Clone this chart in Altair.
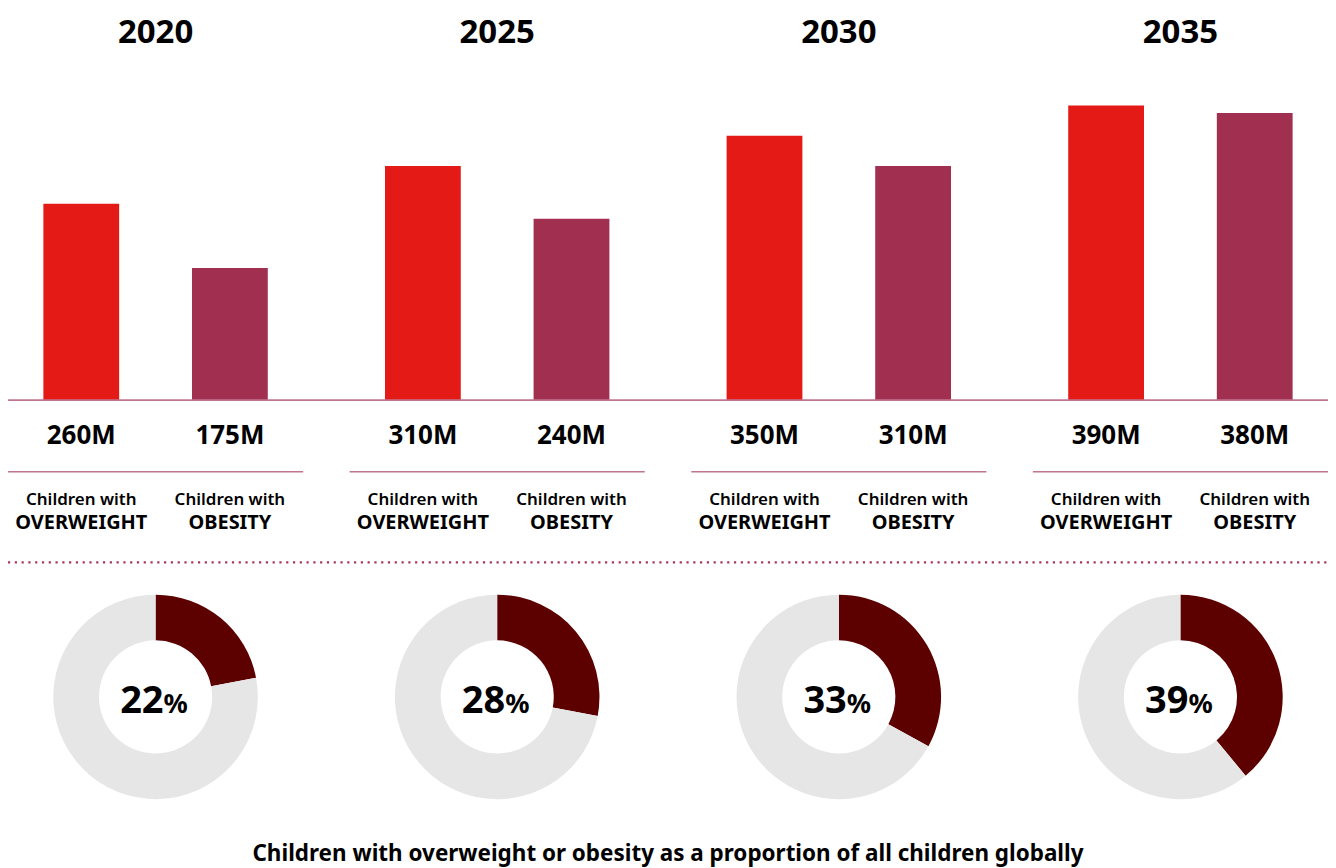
import math
import altair as alt
import pandas as pd

# ---- data ----
years = ["2020", "2025", "2030", "2035"]
categories = ["OVERWEIGHT", "OBESITY"]
overweight_m = [260, 310, 350, 390]
obesity_m = [175, 240, 310, 380]
share_pct = [22, 28, 33, 39]
caption = "Children with overweight or obesity as a proportion of all children globally"

# ---- tables built from the arrays ----
bar_rows = []
for i, y in enumerate(years):
    for c, v in zip(categories, [overweight_m[i], obesity_m[i]]):
        bar_rows.append({"year": y, "cat": c, "value": v, "label": f"{v}M"})
bars_df = pd.DataFrame(bar_rows)

donut_rows = []
for y, s in zip(years, share_pct):
    donut_rows.append({"year": y, "part": "share", "amount": s, "order": 0})
    donut_rows.append({"year": y, "part": "rest", "amount": 100 - s, "order": 1})
donut_df = pd.DataFrame(donut_rows)

pct_df = pd.DataFrame({"year": years, "pct": [str(p) for p in share_pct]})
one_df = pd.DataFrame({"k": [0]})

# ---- styles ----
FONT = "Noto Sans"
RED = "#e31a16"
MAROON = "#a02f50"
LINE = "#c27590"
DOT = "#a8365e"
DARK = "#5c0000"
LIGHT = "#e6e6e6"
W, H = 1323, 862


def xyear(**kw):
    return alt.X("year:N", sort=years, axis=None,
                 scale=alt.Scale(domain=years, paddingInner=0.136, paddingOuter=0), **kw)


xoff = alt.XOffset("cat:N", sort=categories,
                   scale=alt.Scale(domain=categories, paddingInner=0.49, paddingOuter=0.238))

yscale = alt.Scale(domain=[0, 400], range=[392, 392 - 0.757 * 400])

bars = alt.Chart(bars_df).mark_bar().encode(
    x=xyear(),
    xOffset=xoff,
    y=alt.Y("value:Q", scale=yscale, axis=None),
    color=alt.condition("datum.cat == 'OVERWEIGHT'", alt.value(RED), alt.value(MAROON)),
)

baseline = alt.Chart(one_df).mark_rule(color=LINE, strokeWidth=1.6).encode(
    x=alt.value(-1), x2=alt.value("width"), y=alt.value(392)
)

year_text = alt.Chart(pct_df).mark_text(
    font=FONT, fontSize=33, fontWeight="bold", baseline="alphabetic", color="#000"
).encode(x=xyear(), y=alt.value(33.7), text="year:N")

value_text = alt.Chart(bars_df).mark_text(
    font=FONT, fontSize=26, fontWeight="bold", baseline="alphabetic", color="#000"
).encode(x=xyear(), xOffset=xoff, y=alt.value(436), text="label:N")

sep = alt.Chart(pct_df).mark_rect(color=LINE).encode(
    x=xyear(), y=alt.value(463), y2=alt.value(464.6)
)

lead_text = alt.Chart(bars_df).mark_text(
    font=FONT, fontSize=17, fontWeight=600, baseline="alphabetic", color="#000"
).encode(x=xyear(), xOffset=xoff, y=alt.value(497), text=alt.value("Children with"))

cat_text = alt.Chart(bars_df).mark_text(
    font=FONT, fontSize=20, fontWeight="bold", baseline="alphabetic", color="#000"
).encode(x=xyear(), xOffset=xoff, y=alt.value(521.3), text="cat:N")

dots = alt.Chart(one_df).mark_rule(
    color=DOT, strokeWidth=2.2, strokeDash=[2.2, 4.6]
).encode(x=alt.value(0), x2=alt.value("width"), y=alt.value(554.7))

donut = alt.Chart(donut_df).transform_stack(
    stack="amount", groupby=["year"], as_=["t0", "t1"], offset="normalize",
    sort=[alt.SortField("order", order="ascending")],
).mark_arc(outerRadius=102.5, innerRadius=56.7).encode(
    x=xyear(bandPosition=0.5),
    y=alt.value(689.5),
    theta=alt.Theta("t0:Q", scale=alt.Scale(domain=[0, 1], range=[0, 2 * math.pi])),
    theta2="t1:Q",
    color=alt.condition("datum.part == 'share'", alt.value(DARK), alt.value(LIGHT)),
)

pct_text = alt.Chart(pct_df).mark_text(
    font=FONT, fontSize=38, fontWeight="bold", baseline="alphabetic", align="right",
    dx=8, color="#000"
).encode(x=xyear(), y=alt.value(706), text="pct:N")

pct_sign = alt.Chart(pct_df).mark_text(
    font=FONT, fontSize=27, fontWeight="bold", baseline="alphabetic", align="left",
    dx=8, color="#000"
).encode(x=xyear(), y=alt.value(706), text=alt.value("%"))

cap_text = alt.Chart(one_df).mark_text(
    font=FONT, fontSize=22.5, fontWeight="bold", baseline="alphabetic", color="#000",
    x=alt.ExprRef(expr="width/2"), y=854
).encode(text=alt.value(caption))

chart = alt.layer(
    bars, baseline, year_text, value_text, sep, lead_text, cat_text, dots,
    donut, pct_text, pct_sign, cap_text
).properties(
    width=W, height=H, padding=0, background="white",
    autosize=alt.AutoSizeParams(type="none"),
).configure_view(stroke=None)

chart.save("out.html", embed_options={"renderer": "svg", "actions": False})
